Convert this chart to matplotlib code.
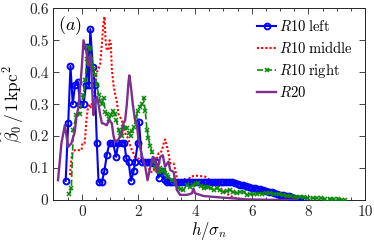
import matplotlib
matplotlib.use("Agg")
import matplotlib.pyplot as plt
from matplotlib.ticker import MultipleLocator

plt.rcParams["font.family"] = "serif"
plt.rcParams["font.serif"] = ["cmr10"]
plt.rcParams["mathtext.fontset"] = "cm"
plt.rcParams["axes.formatter.use_mathtext"] = True

# R10 left (blue, circles)
left_x = [-0.57, -0.48, -0.40, -0.32, -0.24, -0.14, -0.06, 0.06, 0.15, 0.20, 0.25, 0.30,
          0.39, 0.46, 0.53, 0.59, 0.71, 0.80, 0.88, 0.98, 1.10, 1.21, 1.29, 1.41, 1.50,
          1.57, 1.65, 1.74, 1.83, 1.88, 1.98, 2.02, 2.12, 2.24, 2.35, 2.45, 2.53, 2.62,
          2.71, 2.83, 2.94,
          3.0, 3.1, 3.2, 3.3, 3.4, 3.5, 3.6, 3.7, 3.8, 3.9, 4.0, 4.1, 4.2, 4.3, 4.4, 4.5,
          4.6, 4.7, 4.8, 4.9, 5.0, 5.1, 5.2, 5.3, 5.4, 5.5, 5.6, 5.7, 5.8, 5.9, 6.0, 6.1,
          6.2, 6.3, 6.4, 6.5, 6.6, 6.7, 6.8, 6.9, 7.0, 7.1, 7.2, 7.3, 7.4, 7.5, 7.6, 7.7, 7.8]
left_y = [0.06, 0.24, 0.42, 0.30, 0.36, 0.37, 0.30, 0.30, 0.36, 0.48, 0.36, 0.535,
          0.415, 0.36, 0.18, 0.057, 0.057, 0.092, 0.14, 0.18, 0.18, 0.135, 0.18, 0.18, 0.18,
          0.13, 0.12, 0.06, 0.09, 0.12, 0.18, 0.245, 0.12, 0.12, 0.12, 0.12, 0.115, 0.12,
          0.07, 0.09, 0.062,
          0.055, 0.055, 0.055, 0.055, 0.055, 0.055, 0.055, 0.055, 0.055, 0.055, 0.055, 0.055,
          0.055, 0.055, 0.055, 0.055, 0.055, 0.055, 0.055, 0.055, 0.055, 0.055, 0.055, 0.055,
          0.053, 0.050, 0.048, 0.046, 0.044, 0.041, 0.039, 0.037, 0.035, 0.033, 0.030, 0.028,
          0.026, 0.024, 0.022, 0.019, 0.017, 0.015, 0.013, 0.011, 0.008, 0.006, 0.004, 0.002, 0.0]

# R10 middle (red, dotted)
middle_x = [-0.42, -0.38, -0.33, -0.24, -0.10, -0.01, 0.02, 0.10, 0.13, 0.16, 0.22, 0.28,
            0.32, 0.41, 0.47, 0.53, 0.59, 0.65, 0.71, 0.76, 0.80, 0.84, 0.88, 0.94, 0.98,
            1.02, 1.06, 1.12, 1.18, 1.24, 1.29, 1.35, 1.41, 1.47, 1.53, 1.59, 1.65, 1.71,
            1.77, 1.83, 1.88, 1.94, 2.00, 2.06, 2.12, 2.18, 2.24, 2.30, 2.35, 2.41, 2.47,
            2.53, 2.59, 2.65, 2.71, 2.77, 2.83, 2.89, 2.94, 3.00, 3.06, 3.12, 3.18, 3.24,
            3.30, 3.36, 3.42, 3.50, 3.59, 3.65, 3.71, 3.77, 3.83, 3.94, 4.06, 4.18, 4.36,
            4.50, 4.65, 4.80, 4.95, 5.10, 5.24, 5.40, 5.60, 5.83, 6.00]
middle_y = [0.078, 0.12, 0.15, 0.156, 0.156, 0.156, 0.177, 0.177, 0.21, 0.25, 0.29, 0.30,
            0.29, 0.32, 0.36, 0.40, 0.41, 0.427, 0.49, 0.55, 0.574, 0.50, 0.47, 0.47, 0.50,
            0.496, 0.41, 0.36, 0.33, 0.307, 0.27, 0.26, 0.25, 0.23, 0.21, 0.20, 0.19, 0.17,
            0.156, 0.145, 0.135, 0.13, 0.13, 0.125, 0.12, 0.12, 0.12, 0.11, 0.104, 0.088, 0.088,
            0.088, 0.11, 0.13, 0.146, 0.146, 0.156, 0.177, 0.19, 0.17, 0.146, 0.115, 0.115, 0.115,
            0.094, 0.068, 0.062, 0.06, 0.057, 0.068, 0.06, 0.062, 0.073, 0.075, 0.076, 0.075, 0.073,
            0.064, 0.057, 0.045, 0.031, 0.022, 0.0125, 0.007, 0.003, 0.0, 0.0]

# R10 right (green, dashed, crosses)
right_x = [-0.45, -0.37, -0.30, -0.20, -0.08, 0.05, 0.12, 0.18, 0.23, 0.28, 0.34, 0.41,
           0.47, 0.53, 0.59, 0.65, 0.71, 0.77, 0.83, 0.90, 0.95, 1.02, 1.10, 1.16, 1.22,
           1.30, 1.36, 1.42, 1.47, 1.53, 1.60, 1.66, 1.72, 1.78, 1.85, 1.92, 1.98, 2.05,
           2.12, 2.18, 2.24, 2.30, 2.35, 2.41, 2.47, 2.53, 2.59, 2.65, 2.71, 2.77, 2.83,
           2.89, 2.95, 3.00, 3.06, 3.18, 3.30, 3.41, 3.50, 3.59, 3.71, 3.82, 3.94, 4.03,
           4.12, 4.20, 4.30, 4.38, 4.47, 4.56, 4.65, 4.77, 4.88, 5.00, 5.12, 5.24, 5.35,
           5.47, 5.59, 5.71, 5.83, 5.95, 6.07, 6.20, 6.35, 6.50, 6.65, 6.80, 6.95, 7.10,
           7.25, 7.40, 7.55, 7.70, 7.85, 8.00, 8.15, 8.30, 8.45, 8.60, 8.75, 8.90, 9.05,
           9.20, 9.30]
right_y = [0.018, 0.036, 0.22, 0.266, 0.27, 0.33, 0.375, 0.44, 0.48, 0.475, 0.44, 0.41,
           0.39, 0.36, 0.33, 0.31, 0.30, 0.318, 0.276, 0.27, 0.255, 0.265, 0.28, 0.27, 0.25,
           0.22, 0.21, 0.20, 0.23, 0.225, 0.224, 0.21, 0.20, 0.215, 0.23, 0.26, 0.28, 0.29,
           0.30, 0.32, 0.28, 0.22, 0.193, 0.17, 0.15, 0.12, 0.104, 0.095, 0.088, 0.10, 0.09,
           0.094, 0.085, 0.078, 0.073, 0.062, 0.052, 0.036, 0.033, 0.031, 0.047, 0.04, 0.047, 0.05,
           0.052, 0.045, 0.036, 0.04, 0.042, 0.036, 0.031, 0.036, 0.03, 0.026, 0.028, 0.031, 0.025,
           0.021, 0.024, 0.026, 0.016, 0.018, 0.019, 0.02, 0.02, 0.021, 0.021, 0.02, 0.018, 0.016,
           0.013, 0.011, 0.01, 0.009, 0.008, 0.007, 0.006, 0.005, 0.005, 0.004, 0.004, 0.003, 0.002,
           0.001, 0.0]

# R20 (purple, solid)
r20_x = [-0.84, -0.72, -0.60, -0.48, -0.37, -0.25, -0.19, -0.12, -0.06, 0.00, 0.06, 0.15,
         0.23, 0.29, 0.35, 0.41, 0.47, 0.53, 0.59, 0.65, 0.71, 0.76, 0.88, 0.96, 1.06,
         1.12, 1.18, 1.30, 1.41, 1.47, 1.53, 1.59, 1.65, 1.68, 1.74, 1.80, 1.88, 1.94,
         2.00, 2.12, 2.24, 2.32, 2.41, 2.51, 2.59, 2.65, 2.77, 2.86, 2.94, 3.06, 3.12,
         3.24, 3.36, 3.47, 3.71, 3.89, 3.94, 4.00, 4.30, 4.89, 5.83, 7.00, 7.60]
r20_y = [0.062, 0.177, 0.234, 0.167, 0.177, 0.213, 0.26, 0.29, 0.35, 0.417, 0.50, 0.47,
         0.42, 0.453, 0.385, 0.266, 0.30, 0.323, 0.30, 0.266, 0.24, 0.24, 0.234, 0.25, 0.24,
         0.20, 0.182, 0.19, 0.213, 0.24, 0.25, 0.30, 0.37, 0.39, 0.35, 0.30, 0.25, 0.24,
         0.19, 0.14, 0.104, 0.062, 0.099, 0.135, 0.13, 0.088, 0.135, 0.14, 0.104, 0.12, 0.094,
         0.088, 0.031, 0.016, 0.016, 0.021, 0.036, 0.021, 0.0125, 0.008, 0.002, 0.0, 0.0]

fig = plt.figure(figsize=(3.74, 2.46), dpi=100)
ax = fig.add_axes([0.143, 0.187, 0.833, 0.779])

ax.plot(left_x, left_y, color="#0000ff", lw=1.5, marker="o", ms=4.2, mfc="none",
        mew=1.4, label=r"$R10\;\mathrm{left}$", zorder=3)
ax.plot(middle_x, middle_y, color="#ff0000", lw=1.5, ls=(0, (1, 1)),
        label=r"$R10\;\mathrm{middle}$", zorder=2)
ax.plot(right_x, right_y, color="#0a8a0a", lw=1.2, ls="--", marker="x", ms=3.5,
        mew=1.1, label=r"$R10\;\mathrm{right}$", zorder=4)
ax.plot(r20_x, r20_y, color="#7e2f8e", lw=1.7, label=r"$R20$", zorder=5)

ax.set_xlim(-1, 10)
ax.set_ylim(0, 0.6)
ax.xaxis.set_major_locator(MultipleLocator(2))
ax.xaxis.set_minor_locator(MultipleLocator(0.5))
ax.yaxis.set_major_locator(MultipleLocator(0.1))
ax.tick_params(which="both", direction="in", top=True, right=True, labelsize=11,
               colors="#262626", width=0.6)
ax.tick_params(which="major", length=4)
ax.tick_params(which="minor", length=2)
ax.set_xticks([0, 2, 4, 6, 8, 10])
ax.set_xticklabels(["0", "2", "4", "6", "8", "10"])
ax.set_yticks([0, 0.1, 0.2, 0.3, 0.4, 0.5, 0.6])
ax.set_yticklabels(["0", "0.1", "0.2", "0.3", "0.4", "0.5", "0.6"])
for s in ax.spines.values():
    s.set_color("#262626")
    s.set_linewidth(0.7)

ax.set_xlabel(r"$h/\sigma_n$", fontsize=12, labelpad=1)
ax.set_ylabel(r"$\widehat{\beta}_0\,/\,1\,\mathrm{kpc}^2$", fontsize=12.5, labelpad=2)
ax.text(-0.85, 0.545, r"$(a)$", fontsize=13, va="center", ha="left")

ax.legend(loc="upper right", bbox_to_anchor=(0.98, 0.975), frameon=False, fontsize=10.5,
          handlelength=1.3, handletextpad=0.2, labelspacing=0.4, borderaxespad=0.0)

fig.savefig("out.png", dpi=100)
